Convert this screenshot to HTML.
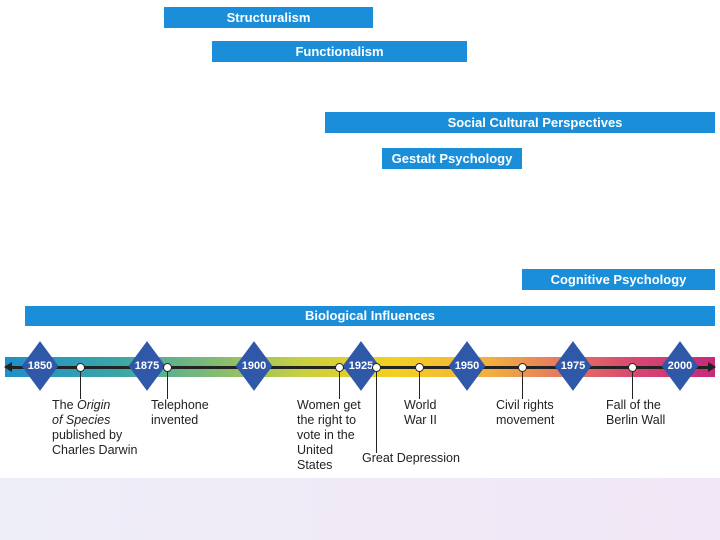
<!DOCTYPE html>
<html><head><style>
body{margin:0;width:720px;height:540px;background:#fff;position:relative;overflow:hidden;font-family:"Liberation Sans",sans-serif}
.b{position:absolute;background:#1a8ed9;color:#fff;font-weight:bold;font-size:13px;line-height:21px;text-align:center;height:21px}
.d{position:absolute;top:353px;width:26px;height:26px;background:#2f58a8;transform:scale(1,1.35) rotate(45deg)}
.y{position:absolute;top:360px;width:40px;text-align:center;color:#fff;font-size:11px;font-weight:bold}
.c{position:absolute;top:363px;width:7px;height:7px;border-radius:50%;background:#fff;border:1px solid #222}
.l{position:absolute;width:1px;background:#222;top:371px}
.t{position:absolute;font-size:12.5px;line-height:15px;color:#222}
</style></head><body>
<div class="b" style="left:164px;top:7px;width:209px">Structuralism</div>
<div class="b" style="left:212px;top:41px;width:255px">Functionalism</div>
<div class="b" style="left:325px;top:112px;width:390px;padding-left:30px;box-sizing:border-box">Social Cultural Perspectives</div>
<div class="b" style="left:382px;top:148px;width:140px">Gestalt Psychology</div>
<div class="b" style="left:522px;top:269px;width:193px">Cognitive Psychology</div>
<div class="b" style="left:25px;top:306px;width:690px;height:20px;line-height:20px">Biological Influences</div>
<div style="position:absolute;left:5px;top:357px;width:710px;height:20px;background:linear-gradient(90deg,#1f8fc8,#3aa6a8 16%,#7ab87a 28%,#c8d040 42%,#f3d020 55%,#f2b040 68%,#e57a60 78%,#d84a70 88%,#c8287a)"></div>
<div style="position:absolute;left:10px;top:366px;width:700px;height:3px;background:#222"></div>
<div style="position:absolute;left:4px;top:362px;border-right:8px solid #222;border-top:5px solid transparent;border-bottom:5px solid transparent"></div>
<div style="position:absolute;left:708px;top:362px;border-left:8px solid #222;border-top:5px solid transparent;border-bottom:5px solid transparent"></div>
<div class="d" style="left:27px"></div><div class="y" style="left:20px">1850</div>
<div class="d" style="left:134px"></div><div class="y" style="left:127px">1875</div>
<div class="d" style="left:241px"></div><div class="y" style="left:234px">1900</div>
<div class="d" style="left:348px"></div><div class="y" style="left:341px">1925</div>
<div class="d" style="left:454px"></div><div class="y" style="left:447px">1950</div>
<div class="d" style="left:560px"></div><div class="y" style="left:553px">1975</div>
<div class="d" style="left:667px"></div><div class="y" style="left:660px">2000</div>
<div class="c" style="left:76px"></div><div class="l" style="left:80px;height:28px"></div>
<div class="c" style="left:163px"></div><div class="l" style="left:167px;height:28px"></div>
<div class="c" style="left:335px"></div><div class="l" style="left:339px;height:28px"></div>
<div class="c" style="left:372px"></div><div class="l" style="left:376px;height:82px"></div>
<div class="c" style="left:415px"></div><div class="l" style="left:419px;height:28px"></div>
<div class="c" style="left:518px"></div><div class="l" style="left:522px;height:28px"></div>
<div class="c" style="left:628px"></div><div class="l" style="left:632px;height:28px"></div>
<div class="t" style="left:52px;top:398px">The <i>Origin</i><br><i>of Species</i><br>published by<br>Charles Darwin</div>
<div class="t" style="left:151px;top:398px">Telephone<br>invented</div>
<div class="t" style="left:297px;top:398px">Women get<br>the right to<br>vote in the<br>United<br>States</div>
<div class="t" style="left:362px;top:451px">Great Depression</div>
<div class="t" style="left:404px;top:398px">World<br>War II</div>
<div class="t" style="left:496px;top:398px">Civil rights<br>movement</div>
<div class="t" style="left:606px;top:398px">Fall of the<br>Berlin Wall</div>
<div style="position:absolute;left:0;top:478px;width:720px;height:62px;background:linear-gradient(90deg,#eeeef8,#f1e6f5)"></div>
</body></html>
